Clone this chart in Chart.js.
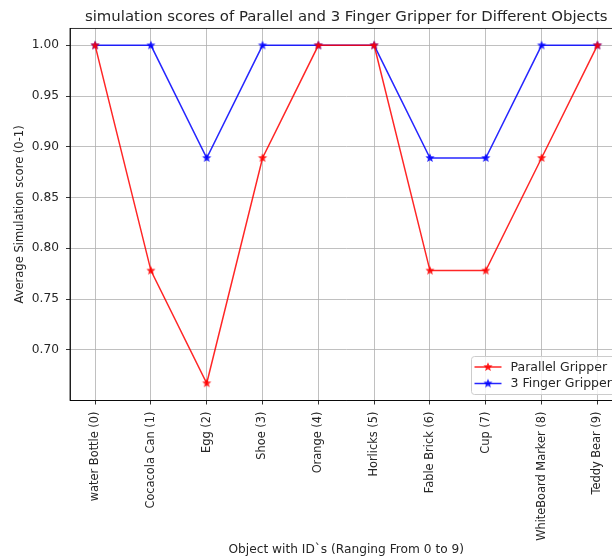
<!DOCTYPE html>
<html>
<head>
<meta charset="utf-8">
<script src="https://cdn.jsdelivr.net/npm/chart.js@4"></script>
<style>
body { margin: 0; overflow: hidden; background: #fff; }
#wrap { width: 628px; height: 560px; }
</style>
</head>
<body>
<div id="wrap"><canvas id="scoreChart" width="628" height="560"></canvas></div>
<script>
// data
const objects = ['water Bottle (0)', 'Cocacola Can (1)', 'Egg (2)', 'Shoe (3)', 'Orange (4)',
	'Horlicks (5)', 'Fable Brick (6)', 'Cup (7)', 'WhiteBoard Marker (8)', 'Teddy Bear (9)'];
const parallelScores = [1.0, 0.778, 0.667, 0.889, 1.0, 1.0, 0.778, 0.778, 0.889, 1.0];
const fingerScores = [1.0, 1.0, 0.889, 1.0, 1.0, 1.0, 0.889, 0.889, 1.0, 1.0];
const yTicks = [0.70, 0.75, 0.80, 0.85, 0.90, 0.95, 1.00];

const redColor = 'rgba(255,0,0,0.85)';
const blueColor = 'rgba(0,0,255,0.85)';
const textColor = '#262626';

Chart.defaults.font.family = '"DejaVu Sans", sans-serif';
Chart.defaults.font.size = 11.4;
Chart.defaults.color = textColor;

// filled 5 point star like matplotlib '*'
function makeStar(color, r) {
	const c = document.createElement('canvas');
	const s = Math.ceil(r * 2 + 2);
	c.width = s; c.height = s;
	const g = c.getContext('2d');
	g.fillStyle = color;
	g.beginPath();
	for (let k = 0; k < 10; k++) {
		const rad = k % 2 === 0 ? r : r * 0.45;
		const a = -Math.PI / 2 + k * Math.PI / 5;
		const px = s / 2 + rad * Math.cos(a);
		const py = s / 2 + rad * Math.sin(a);
		if (k === 0) g.moveTo(px, py); else g.lineTo(px, py);
	}
	g.closePath();
	g.fill();
	return c;
}

const redStar = makeStar(redColor, 4.8);
const blueStar = makeStar(blueColor, 4.8);

// box around plot + legend in lower right
const framePlugin = {
	id: 'frame',
	afterDatasetsDraw(chart) {
		const { ctx, chartArea: a } = chart;
		ctx.save();
		ctx.strokeStyle = '#000';
		ctx.lineWidth = 0.8;
		ctx.strokeRect(a.left, a.top, a.right - a.left, a.bottom - a.top);

		// legend
		const bx = a.right - 151, by = a.bottom - 44, bw = 146, bh = 38;
		ctx.fillStyle = 'rgba(255,255,255,0.8)';
		ctx.strokeStyle = '#cccccc';
		ctx.lineWidth = 1;
		ctx.beginPath();
		ctx.roundRect(bx, by, bw, bh, 3);
		ctx.fill();
		ctx.stroke();

		ctx.font = '12.5px "DejaVu Sans", sans-serif';
		ctx.textBaseline = 'middle';
		chart.data.datasets.forEach((ds, i) => {
			const ry = by + 10.5 + i * 16.5;
			ctx.strokeStyle = ds.borderColor;
			ctx.lineWidth = 1.5;
			ctx.beginPath();
			ctx.moveTo(bx + 3, ry);
			ctx.lineTo(bx + 30, ry);
			ctx.stroke();
			const st = ds.pointStyle;
			ctx.drawImage(st, bx + 16.5 - st.width / 2, ry - st.height / 2);
			ctx.fillStyle = textColor;
			ctx.fillText(ds.label, bx + 39, ry + 0.5);
		});
		ctx.restore();
	}
};

new Chart(document.getElementById('scoreChart'), {
	type: 'line',
	data: {
		datasets: [
			{
				label: 'Parallel Gripper',
				data: parallelScores.map((v, i) => ({ x: i, y: v })),
				borderColor: redColor,
				backgroundColor: redColor,
				borderWidth: 1.5,
				pointStyle: redStar,
				pointRadius: 4,
				tension: 0,
			},
			{
				label: '3 Finger Gripper',
				data: fingerScores.map((v, i) => ({ x: i, y: v })),
				borderColor: blueColor,
				backgroundColor: blueColor,
				borderWidth: 1.5,
				pointStyle: blueStar,
				pointRadius: 4,
				tension: 0,
			}
		]
	},
	options: {
		responsive: false,
		animation: false,
		layout: { padding: 0 },
		plugins: {
			legend: { display: false },
			tooltip: { enabled: false },
			title: {
				display: true,
				fullSize: false,
				text: 'simulation scores of Parallel and 3 Finger Gripper for Different Objects',
				font: { size: 14.9, weight: 'normal' },
				color: textColor,
				padding: { top: 8, bottom: 2.5 },
			}
		},
		scales: {
			x: {
				type: 'linear',
				min: -0.45,
				max: 9.45,
				afterBuildTicks: s => { s.ticks = objects.map((o, i) => ({ value: i })); },
				afterFit: s => { s.height = 159.5; },
				ticks: {
					callback: v => objects[v],
					minRotation: 90,
					maxRotation: 90,
					autoSkip: false,
					padding: 7,
					color: textColor,
				},
				grid: { color: '#b0b0b0', lineWidth: 0.8, tickLength: 4, tickColor: '#000' },
				border: { color: '#000', width: 0.8 },
				title: {
					display: true,
					text: 'Object with ID`s (Ranging From 0 to 9)',
					font: { size: 12.2 },
					color: textColor,
					padding: { top: 0, bottom: 3 },
				}
			},
			y: {
				min: 0.65,
				max: 1.0167,
				afterBuildTicks: s => { s.ticks = yTicks.map(v => ({ value: v })); },
				afterFit: s => { s.width = 70; },
				ticks: {
					callback: v => v.toFixed(2),
					font: { size: 12.2 },
					padding: 7,
					color: textColor,
				},
				grid: { color: '#b0b0b0', lineWidth: 0.8, tickLength: 4, tickColor: '#000' },
				border: { color: '#000', width: 0.8 },
				title: {
					display: true,
					text: 'Average Simulation score (0-1)',
					font: { size: 11.5 },
					color: textColor,
					padding: { top: 13, bottom: 0 },
				}
			}
		}
	},
	plugins: [framePlugin]
});
</script>
</body>
</html>
